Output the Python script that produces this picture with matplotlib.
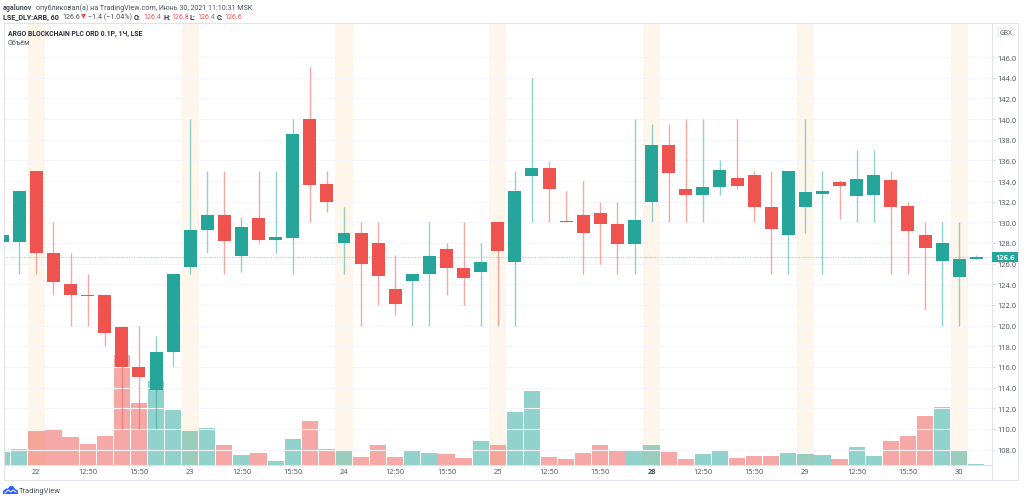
# Свечной график ARGO BLOCKCHAIN (LSE:ARB, 1Ч) с объёмом
import matplotlib
matplotlib.use("Agg")
import matplotlib.pyplot as plt
from matplotlib.lines import Line2D
from matplotlib.patches import Polygon, FancyBboxPatch, Rectangle
import numpy as np

plt.rcParams['font.family'] = ['Open Sans', 'DejaVu Sans']
LABEL_FONT = ['Roboto', 'DejaVu Sans']

opens = [128.1, 128.1, 135.0, 127.0, 124.0, 123.0, 123.0, 119.9, 116.0, 113.8,
         117.4, 125.7, 129.3, 130.7, 126.7, 130.4, 128.3, 128.5, 140.0, 133.7,
         128.0, 129.0, 128.0, 123.5, 124.3, 125.0, 127.4, 125.6, 125.2, 130.0,
         126.2, 134.5, 135.3, 130.1, 130.7, 130.9, 129.8, 127.9, 132.0, 137.5,
         133.2, 132.6, 133.4, 134.3, 134.6, 131.5, 128.8, 131.5, 132.7, 133.9,
         132.5, 132.6, 134.1, 131.6, 128.8, 126.3, 124.7, 126.4]
closes = [128.8, 133.0, 127.0, 124.2, 123.0, 122.9, 119.3, 116.0, 115.0, 117.4,
          125.0, 129.3, 130.7, 128.2, 129.5, 128.3, 128.6, 138.6, 133.6, 132.0,
          129.0, 126.0, 124.8, 122.1, 125.0, 126.7, 125.6, 124.6, 126.2, 127.2,
          133.0, 135.3, 133.2, 130.0, 129.0, 129.8, 127.9, 130.2, 137.5, 134.8,
          132.6, 133.4, 135.1, 133.5, 131.5, 129.4, 135.0, 132.9, 133.0, 133.5,
          134.2, 134.6, 131.5, 129.2, 127.5, 128.0, 126.4, 126.6]
highs = [128.8, 133.0, 135.0, 130.0, 127.0, 125.0, 123.0, 120.0, 120.0, 119.0,
         125.0, 140.0, 135.0, 135.0, 130.5, 135.0, 135.0, 140.0, 145.0, 135.0,
         131.5, 130.0, 130.0, 126.8, 125.0, 130.0, 128.0, 130.0, 128.0, 130.0,
         135.0, 144.0, 135.9, 133.0, 134.0, 132.0, 132.0, 140.0, 139.5, 139.5,
         140.0, 140.0, 136.0, 140.0, 135.0, 135.0, 135.0, 140.0, 135.0, 134.1,
         137.0, 137.0, 135.0, 132.0, 130.0, 130.0, 130.0, 126.8]
lows = [128.1, 125.0, 125.0, 123.0, 120.0, 120.0, 118.0, 110.0, 110.0, 110.0,
        116.0, 125.0, 127.0, 125.0, 125.2, 128.0, 127.0, 125.0, 130.0, 131.0,
        125.0, 120.0, 122.0, 121.0, 120.0, 120.0, 123.0, 122.0, 120.0, 120.0,
        120.0, 130.0, 130.0, 130.0, 125.0, 126.0, 125.0, 125.0, 130.0, 130.0,
        130.0, 130.0, 132.6, 133.2, 130.0, 125.0, 125.0, 129.0, 125.0, 130.3,
        130.0, 130.0, 125.0, 125.0, 121.5, 120.0, 120.0, 126.4]
volumes = [13.3, 15.7, 34.3, 36.0, 28.0, 20.7, 29.0, 110.3, 62.3, 84.0,
           55.0, 33.7, 37.0, 19.7, 9.7, 12.3, 4.3, 26.3, 43.7, 16.3,
           14.0, 8.3, 19.7, 8.0, 14.0, 11.7, 11.3, 7.3, 23.7, 20.3,
           52.7, 74.0, 8.0, 5.7, 11.7, 19.7, 14.0, 14.0, 19.7, 13.3,
           5.7, 11.3, 14.0, 7.3, 9.0, 9.0, 12.3, 11.3, 10.0, 5.7,
           18.0, 9.0, 24.0, 28.7, 48.7, 57.7, 14.0, 1.3]

tick_pos = [2, 5, 8, 11, 14, 17, 20, 23, 26, 29, 32, 35, 38, 41, 44, 47, 50, 53, 56]
tick_labels = ['22', '12:50', '15:50', '23', '12:50', '15:50', '24', '12:50', '15:50',
               '25', '12:50', '15:50', '28', '12:50', '15:50', '29', '12:50', '15:50', '30']
session_starts = [2, 11, 20, 29, 38, 47, 56]
price_ticks = list(range(108, 148, 2))
last_price = 126.6

UP = '#26a69a'
DOWN = '#ef5350'
GRID = '#f5f5fa'
BORDER = '#e0e3eb'
TEXT = '#4a4e59'
DARK = '#2a2e39'

W, H = 1024, 502
fig = plt.figure(figsize=(W / 100, H / 100), dpi=100, facecolor='white')

# панель: x 3.5..992, y 24..466 в пикселях
ax = fig.add_axes([3.5 / W, 1 - 466 / H, (992 - 3.5) / W, (466 - 24) / H])
ax.set_xlim(0.075, 57.92)
ax.set_ylim(106.5, 149.3)
ax.set_axisbelow(True)

# объём на своей оси, снизу
ax_vol = ax.twinx()
ax_vol.set_ylim(0, 442)
ax_vol.set_yticks([])
ax_vol.set_zorder(0)
ax.set_zorder(1)
ax.patch.set_visible(False)
ax_vol.patch.set_facecolor('white')

x = np.arange(len(opens))
o = np.array(opens)
c = np.array(closes)
colors = [UP if b >= a else DOWN for a, b in zip(opens, closes)]

ax_vol.bar(x, volumes, width=0.95, color=colors, alpha=0.5, linewidth=0)
for s in session_starts:
    ax_vol.axvspan(s - 0.5, s + 0.5, color='#ff9800', alpha=0.08, linewidth=0)
ax_vol.set_xticks(tick_pos)
ax_vol.grid(axis='x', color=GRID, linewidth=0.8)
ax_vol.set_axisbelow(True)

ax.set_yticks(price_ticks)
ax.set_yticklabels(['%.1f' % p for p in price_ticks])
ax.grid(axis='y', color=GRID, linewidth=0.8, zorder=0)
ax.yaxis.tick_right()
ax.set_xticks(tick_pos)
ax.set_xticklabels(tick_labels)
ax.tick_params(axis='y', labelsize=5.4, colors=TEXT, length=2, width=0.5, pad=2, color='#c8ccd6')
ax.tick_params(axis='x', labelsize=5.4, colors=TEXT, length=0, pad=2.5)
for lab in ax.get_xticklabels():
    if lab.get_text() == '28':
        lab.set_fontweight('bold')
for side in ax.spines:
    ax.spines[side].set_color(BORDER)
    ax.spines[side].set_linewidth(0.8)
for side in ax_vol.spines:
    ax_vol.spines[side].set_visible(False)

# свечи
ax.vlines(x, lows, highs, colors=colors, linewidth=1.0, alpha=0.5, zorder=3)
bottoms = np.minimum(o, c)
heights = np.abs(c - o)
ax.bar(x, heights, bottom=bottoms, width=0.76, color=colors, linewidth=0, zorder=4)

# линия последней цены
ax.axhline(last_price, color=UP, linewidth=0.8, linestyle=(0, (1, 1.2)), alpha=0.45, zorder=2)
trans = ax.get_yaxis_transform()
ax.add_patch(Rectangle((1.0, last_price - 0.48), 26 / (992 - 3.5), 0.96, transform=trans,
                       facecolor=UP, edgecolor='none', clip_on=False, zorder=6))
ax.text(1.0 + 13.5 / (992 - 3.5), last_price, '%.1f' % last_price, transform=trans, ha='center', va='center',
        fontsize=5.4, fontweight='bold', color='white', zorder=7, clip_on=False)

# подпись панели
fig.text(8 / W, 1 - 34 / H, 'ARGO BLOCKCHAIN PLC ORD 0.1P, 1Ч, LSE', fontsize=4.95,
         fontweight='bold', color=DARK, va='center', family=LABEL_FONT)
fig.text(8 / W, 1 - 43.5 / H, 'Объём', fontsize=5.1, color=TEXT, va='center', family=LABEL_FONT)

# рамка шкалы времени
for xs, ys in [((3.5, 3.5), (466, 481)), ((3.5, 1018), (481, 481)), ((992, 992), (466, 481)),
               ((992, 1018), (24, 24)), ((1018, 1018), (24, 481))]:
    fig.add_artist(Line2D([v / W for v in xs], [1 - v / H for v in ys], color=BORDER, linewidth=0.7))

# кнопка GBX
fig.add_artist(FancyBboxPatch((998 / W, 1 - 37 / H), 16 / W, 8 / H, transform=fig.transFigure,
                              boxstyle='round,pad=0,rounding_size=0.002', facecolor='white',
                              edgecolor='#d6d8e0', linewidth=0.5, zorder=5))
fig.text(1006 / W, 1 - 33.2 / H, 'GBX', fontsize=4.8, color=TEXT, ha='center', va='center', zorder=6)


def head(xpx, ypx, s, color=TEXT, weight='normal', size=5.15):
    fig.text(xpx / W, 1 - ypx / H, s, fontsize=size, color=color, fontweight=weight,
             va='center', family=LABEL_FONT)


head(3, 7.6, 'agalunov', weight='bold')
head(36, 7.6, 'опубликовал(а) на TradingView.com, Июнь 30, 2021 11:10:31 MSK')
head(3, 17.6, 'LSE_DLY:ARB, 60', color=DARK, weight='bold')
head(62, 17.6, '126.6')
fig.add_artist(Polygon([[81 / W, 1 - 15 / H], [86 / W, 1 - 15 / H], [83.5 / W, 1 - 20 / H]],
                       transform=fig.transFigure, facecolor=DOWN, edgecolor='none'))
head(88, 17.6, '−1.4 (−1.04%)')
for xl, xv, lab, val in [(134, 143, 'O:', '126.4'), (163, 171, 'H:', '126.8'),
                         (190, 197, 'L:', '126.4'), (217, 224, 'C:', '126.6')]:
    head(xl, 17.6, lab, color=DARK, weight='bold')
    head(xv, 17.6, val, color=DOWN)

# логотип TradingView
logo = [(3, 495), (3, 492), (6, 489.5), (8, 489.5), (10, 487), (13, 487), (15, 490), (18, 491.5), (18, 495)]
fig.add_artist(Polygon([(a / W, 1 - b / H) for a, b in logo], transform=fig.transFigure,
                       facecolor='#2962ff', edgecolor='none'))
fig.add_artist(Line2D([v / W for v in (5, 8, 11, 13, 16)], [1 - v / H for v in (494, 491, 493, 491, 493)],
                      color='white', linewidth=0.7))
fig.text(19 / W, 1 - 491.5 / H, 'TradingView', fontsize=5.4, color=TEXT, va='center', family=LABEL_FONT)

fig.savefig('out.png', dpi=100)
